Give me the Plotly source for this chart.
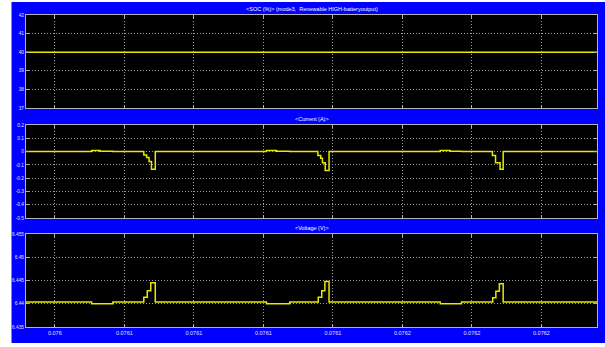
import plotly.graph_objects as go

# ---------------- data ----------------
soc_t = [0.0759917, 0.0761560]
soc_v = [40.0, 40.0]

cur_t = [0.0759917,
         0.0760106, 0.0760130, 0.0760167,
         0.0760256, 0.0760264, 0.0760271, 0.0760278, 0.0760289,
         0.0760609, 0.0760638, 0.0760676,
         0.0760757, 0.0760765, 0.0760770, 0.0760778, 0.0760789,
         0.0761109, 0.0761137, 0.0761170,
         0.0761259, 0.0761268, 0.0761276, 0.0761281, 0.0761290,
         0.0761560]
cur_v = [0.0,
         0.008, 0.003, 0.0,
         -0.025, -0.045, -0.075, -0.133, 0.0,
         0.008, 0.003, 0.0,
         -0.030, -0.050, -0.085, -0.143, 0.0,
         0.008, 0.003, 0.0,
         -0.030, -0.085, -0.085, -0.133, 0.0,
         0.0]

volt_t = [0.0759917,
          0.0760106, 0.0760167,
          0.0760256, 0.0760266, 0.0760276, 0.0760289,
          0.0760609, 0.0760676,
          0.0760758, 0.0760768, 0.0760777, 0.0760789,
          0.0761109, 0.0761170,
          0.0761260, 0.0761269, 0.0761279, 0.0761290,
          0.0761560]
volt_v = [6.4404,
          6.4400, 6.4404,
          6.4414, 6.4428, 6.4445, 6.4404,
          6.4400, 6.4404,
          6.4414, 6.4428, 6.4448, 6.4404,
          6.4400, 6.4404,
          6.4413, 6.4427, 6.4443, 6.4404,
          6.4404]

x_tick_vals = [0.07600, 0.07602, 0.07604, 0.07606, 0.07608, 0.07610, 0.07612, 0.07614]
x_tick_text = ["0.076", "0.0761", "0.0761", "0.0761", "0.0761", "0.0762", "0.0762", "0.0762"]
x_range = [0.0759917, 0.0761560]

soc_ticks = [37, 38, 39, 40, 41, 42]
cur_ticks = [-0.5, -0.4, -0.3, -0.2, -0.1, 0, 0.1, 0.2]
cur_tick_text = ["-0.5", "-0.4", "-0.3", "-0.2", "-0.1", "0", "0.1", "0.2"]
volt_ticks = [6.435, 6.44, 6.445, 6.45, 6.455]
volt_tick_text = ["6.435", "6.44", "6.445", "6.45", "6.455"]

titles = ["<SOC (%)> (mode3,  Renewable HIGH-batteryoutput)", "<Current (A)>", "<Voltage (V)>"]

# ---------------- styling ----------------
W, H = 605, 347
ML, MR, MT, MB = 26, 8, 15, 20
BLUE = "#0000FF"
LINE = "#E8E800"
FRAME = "#B4B4B4"
GRID = "#A0A0A0"
TXT = "#E0E0FF"
FONT = "Liberation Sans Narrow, Liberation Sans, Arial, sans-serif"

ph = H - MT - MB  # 312
def frac(top_px, bot_px):
    return [(H - MB - bot_px) / ph, (H - MB - top_px) / ph]

domains = [frac(15, 108), frac(125, 218), frac(234, 327)]

fig = go.Figure()
fig.add_trace(go.Scatter(x=soc_t, y=soc_v, mode="lines", line=dict(color=LINE, width=1.6),
                         xaxis="x", yaxis="y", showlegend=False, hoverinfo="skip"))
fig.add_trace(go.Scatter(x=cur_t, y=cur_v, mode="lines", line=dict(color=LINE, width=1.5, shape="hv"),
                         xaxis="x2", yaxis="y2", showlegend=False, hoverinfo="skip"))
fig.add_trace(go.Scatter(x=volt_t, y=volt_v, mode="lines", line=dict(color=LINE, width=1.5, shape="hv"),
                         xaxis="x3", yaxis="y3", showlegend=False, hoverinfo="skip"))

def xax(anchor, labels):
    return dict(domain=[0, 1], anchor=anchor, range=x_range, tickvals=x_tick_vals,
                ticktext=x_tick_text, showticklabels=labels, showgrid=True, gridcolor=GRID,
                griddash="1px,2px", gridwidth=1, showline=True, linecolor=FRAME, linewidth=1,
                mirror="ticks", ticks="inside", ticklen=3, tickcolor=FRAME, zeroline=False,
                tickfont=dict(family=FONT, size=5.5, color=TXT), fixedrange=True)

def yax(anchor, dom, rng, vals, text):
    return dict(domain=dom, anchor=anchor, range=rng, tickvals=vals, ticktext=text,
                showgrid=True, gridcolor=GRID, griddash="1px,2px", gridwidth=1, showline=True,
                linecolor=FRAME, linewidth=1, mirror="ticks", ticks="inside", ticklen=3,
                tickcolor=FRAME, zeroline=False, ticklabelstandoff=0,
                tickfont=dict(family=FONT, size=4.8, color=TXT), fixedrange=True)

fig.update_layout(
    width=W, height=H,
    margin=dict(l=ML, r=MR, t=MT, b=MB, pad=0),
    paper_bgcolor=BLUE, plot_bgcolor="#000000",
    xaxis=xax("y", False),
    xaxis2=xax("y2", False),
    xaxis3=xax("y3", True),
    yaxis=yax("x", domains[0], [37, 42], soc_ticks, [str(v) for v in soc_ticks]),
    yaxis2=yax("x2", domains[1], [-0.5, 0.2], cur_ticks, cur_tick_text),
    yaxis3=yax("x3", domains[2], [6.435, 6.455], volt_ticks, volt_tick_text),
    showlegend=False,
)

# panel titles
for i, t in enumerate(titles):
    fig.add_annotation(text=t, xref="paper", yref="paper", x=0.5, y=domains[i][1],
                       yanchor="bottom", xanchor="center", yshift=1, showarrow=False,
                       font=dict(family=FONT, size=5.5, color="#FFFFFF"))

# white outer margin outside the blue scope window
def px_x(p):
    return (p - ML) / (W - ML - MR)
def px_y(p):
    return (H - MB - p) / ph
white = dict(type="rect", xref="paper", yref="paper", fillcolor="#FFFFFF",
             line=dict(width=0), layer="below")
fig.add_shape(x0=px_x(0), x1=px_x(11.5), y0=px_y(H), y1=px_y(0), **white)
fig.add_shape(x0=px_x(0), x1=px_x(W), y0=px_y(2), y1=px_y(0), **white)
fig.add_shape(x0=px_x(0), x1=px_x(W), y0=px_y(H), y1=px_y(343), **white)

fig.write_html("out.html", config=dict(displayModeBar=False))
